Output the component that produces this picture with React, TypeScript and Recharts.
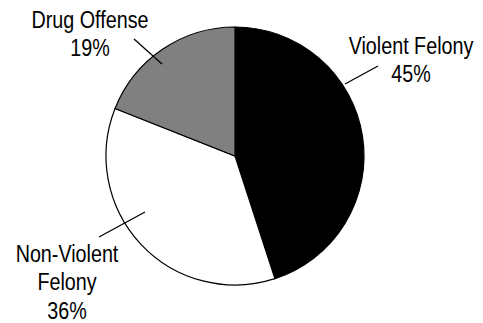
import { PieChart, Pie, Cell } from 'recharts'

const categories = ['Violent Felony', 'Non-Violent Felony', 'Drug Offense']
const shares = [45, 36, 19]
const fills = ['#000000', '#ffffff', '#808080']

const data = categories.map((name, i) => ({ name, value: shares[i] }))

// label layout, relative to the pie centre
const labelLayout = [
  { lines: ['Violent Felony'], x: 176, y: -102, leader: [110, -72, 143, -90] },
  { lines: ['Non-Violent', 'Felony'], x: -168, y: 106, leader: [-136, 81, -90, 56] },
  { lines: ['Drug Offense'], x: -145, y: -128, leader: [-101, -117, -73, -92] },
]

const FONT = '"Liberation Sans", Arial, sans-serif'

function renderLabel(props: any) {
  const { cx, cy, index } = props
  const lay = labelLayout[index]
  const [x1, y1, x2, y2] = lay.leader
  const lineGap = 28.5
  return (
    <g key={`lbl-${index}`}>
      <line x1={cx + x1} y1={cy + y1} x2={cx + x2} y2={cy + y2} stroke="#000" strokeWidth={1.3} />
      <text
        transform={`translate(${cx + lay.x},${cy + lay.y}) scale(0.84,1)`}
        x={0}
        y={0}
        textAnchor="middle"
        fontFamily={FONT}
        fontSize={23.5}
        fill="#000"
      >
        {lay.lines.map((l, i) => (
          <tspan key={i} x={0} dy={i === 0 ? 0 : lineGap}>
            {l}
          </tspan>
        ))}
        <tspan x={0} dy={lineGap}>
          {shares[index]}%
        </tspan>
      </text>
    </g>
  )
}

export default function App() {
  return (
    <div style={{ position: 'absolute', left: 0, top: 0, background: '#fff' }}>
      <PieChart width={483} height={323} margin={{ top: 0, right: 0, bottom: 0, left: 0 }}>
        <Pie
          data={data}
          dataKey="value"
          nameKey="name"
          cx={235}
          cy={156}
          outerRadius={129}
          startAngle={90}
          endAngle={-270}
          stroke="#000"
          strokeWidth={1.2}
          label={renderLabel}
          labelLine={false}
          isAnimationActive={false}
        >
          {data.map((d, i) => (
            <Cell key={d.name} fill={fills[i]} />
          ))}
        </Pie>
      </PieChart>
    </div>
  )
}
